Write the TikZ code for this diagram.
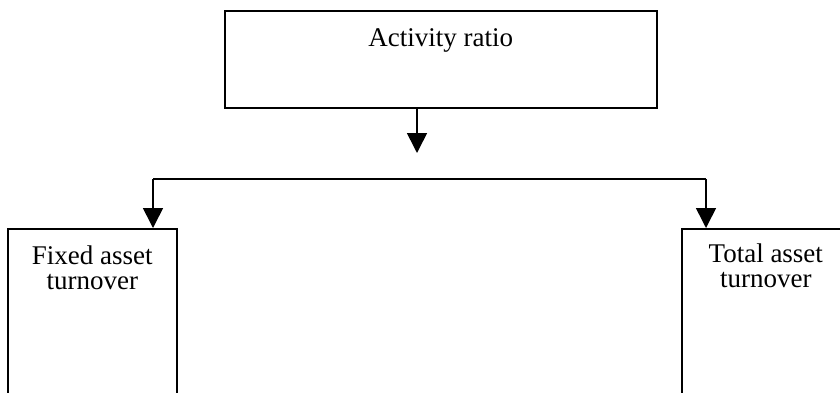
\documentclass[tikz,border=0pt]{standalone}
\usepackage{fontspec}
\setmainfont{Liberation Serif}
\usetikzlibrary{arrows.meta,positioning,calc}

\begin{document}
\begin{tikzpicture}[
  x=1pt, y=-1pt,
  >={Triangle[length=20pt,width=20pt]},
  box/.style={
    rectangle, draw=black, line width=1.6pt,
    anchor=north west, inner sep=0pt
  },
  txt/.style={
    font=\fontsize{27}{25}\selectfont,
    align=center, anchor=north, inner sep=0pt
  },
  arr/.style={->, draw=black, line width=1.6pt},
  bus/.style={draw=black, line width=1.6pt}
]

\useasboundingbox (0,0) rectangle (840,392);
\clip (0,0) rectangle (840,392);

\node[box, minimum width=432pt, minimum height=97pt]  (ratio) at (224,10)  {};
\node[txt, below=18pt of ratio.north]                 (ratiotxt) {Activity ratio};

\node[box, minimum width=169pt, minimum height=190pt] (fixed) at (7,228)   {};
\node[txt, below=18pt of fixed.north]                 (fixedtxt) {Fixed asset\\turnover};

\node[box, minimum width=168pt, minimum height=190pt] (total) at (681,228) {};
\node[txt, below=16pt of total.north]                 (totaltxt) {Total asset\\turnover};

\coordinate (drop) at (417,153);
\coordinate (busL) at (153,179);
\coordinate (busR) at (706,179);

\draw[arr] (drop |- ratio.south) -- (drop);
\draw[bus] (busL) -- (busR);
\draw[arr] (busL) -- (busL |- fixed.north);
\draw[arr] (busR) -- (busR |- total.north);

\end{tikzpicture}
\end{document}
